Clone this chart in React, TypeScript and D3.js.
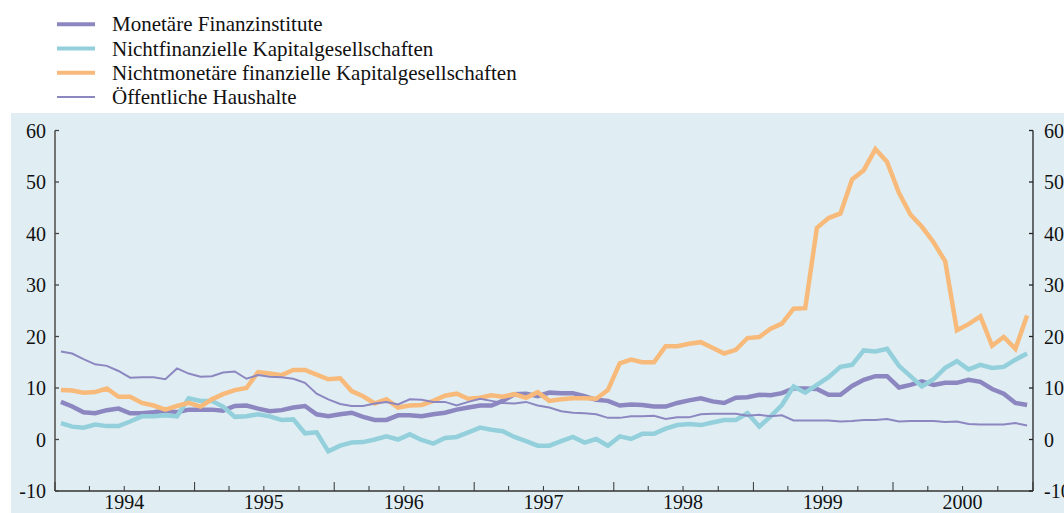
import React from "react";
import * as d3 from "d3";

const years = [1994, 1995, 1996, 1997, 1998, 1999, 2000];
const yTicks = [-10, 0, 10, 20, 30, 40, 50, 60];

const seriesNames = [
  "Monetäre Finanzinstitute",
  "Nichtfinanzielle Kapitalgesellschaften",
  "Nichtmonetäre finanzielle Kapitalgesellschaften",
  "Öffentliche Haushalte",
];

// monthly values Jan 1994 .. Dec 2000
const monetaere = [
  7.3, 6.4, 5.3, 5.1, 5.7, 6.0, 5.1, 5.1, 5.3, 5.6, 5.3, 5.8,
  5.8, 5.8, 5.6, 6.5, 6.6, 6.0, 5.5, 5.7, 6.2, 6.5, 4.9, 4.5,
  4.9, 5.2, 4.4, 3.8, 3.8, 4.7, 4.7, 4.5, 4.9, 5.2, 5.8, 6.2,
  6.6, 6.6, 7.5, 8.8, 8.9, 8.4, 9.1, 9.0, 9.0, 8.4, 7.7, 7.5,
  6.6, 6.8, 6.7, 6.4, 6.4, 7.1, 7.6, 8.0, 7.4, 7.1, 8.1, 8.2,
  8.7, 8.6, 9.0, 9.9, 9.9, 9.8, 8.7, 8.7, 10.4, 11.6, 12.3, 12.3,
  10.1, 10.6, 11.3, 10.6, 11.0, 11.0, 11.6, 11.2, 9.8, 8.9, 7.1, 6.7,
];

const nichtfinanzielle = [
  3.2, 2.5, 2.3, 2.9, 2.6, 2.6, 3.5, 4.5, 4.5, 4.7, 4.5, 8.0,
  7.5, 7.5, 6.4, 4.4, 4.5, 4.9, 4.5, 3.8, 3.9, 1.2, 1.4, -2.3,
  -1.2, -0.6, -0.5, 0.0, 0.6, 0.0, 1.0, -0.1, -0.8, 0.3, 0.5, 1.4,
  2.3, 1.9, 1.6, 0.5, -0.3, -1.2, -1.2, -0.3, 0.5, -0.6, 0.1, -1.2,
  0.6, 0.1, 1.1, 1.1, 2.1, 2.8, 3.0, 2.8, 3.3, 3.8, 3.8, 5.1,
  2.5, 4.5, 6.7, 10.3, 9.1, 10.6, 12.1, 14.1, 14.5, 17.3, 17.1, 17.6,
  14.3, 12.3, 10.3, 11.7, 13.9, 15.2, 13.6, 14.5, 13.9, 14.1, 15.5, 16.7,
];

const nichtmonetaere = [
  9.6, 9.5, 9.1, 9.2, 9.9, 8.3, 8.3, 7.1, 6.6, 5.8, 6.5, 7.1,
  6.4, 7.8, 8.8, 9.6, 10.0, 13.1, 12.8, 12.5, 13.5, 13.5, 12.6, 11.7,
  11.9, 9.4, 8.4, 7.0, 7.8, 6.2, 6.6, 6.7, 7.5, 8.5, 8.9, 7.9,
  8.1, 8.6, 8.3, 8.8, 8.1, 9.2, 7.5, 7.8, 8.0, 8.0, 7.9, 9.6,
  14.8, 15.5, 15.0, 15.0, 18.1, 18.1, 18.6, 18.9, 17.8, 16.7, 17.4, 19.7,
  19.9, 21.5, 22.5, 25.4, 25.5, 41.1, 43.0, 43.9, 50.5, 52.3, 56.4, 53.9,
  47.9, 43.7, 41.3, 38.3, 34.6, 21.2, 22.4, 23.9, 18.2, 19.9, 17.6, 24.1,
];

const oeffentliche = [
  17.1, 16.7, 15.6, 14.6, 14.3, 13.3, 12.0, 12.1, 12.1, 11.7, 13.8, 12.8,
  12.2, 12.3, 13.0, 13.2, 11.8, 12.5, 12.2, 12.1, 11.8, 11.0, 8.9, 7.8,
  6.9, 6.5, 6.5, 7.0, 7.3, 6.8, 7.8, 7.7, 7.3, 7.3, 6.6, 7.3,
  7.9, 7.5, 7.1, 7.0, 7.3, 6.6, 6.2, 5.5, 5.2, 5.1, 4.9, 4.2,
  4.2, 4.5, 4.5, 4.6, 4.0, 4.3, 4.3, 4.9, 5.0, 5.0, 5.0, 4.6,
  4.8, 4.5, 4.7, 3.7, 3.7, 3.7, 3.7, 3.5, 3.6, 3.8, 3.8, 4.0,
  3.5, 3.6, 3.6, 3.6, 3.4, 3.5, 3.0, 2.9, 2.9, 2.9, 3.2, 2.7,
];

const seriesValues = [monetaere, nichtfinanzielle, nichtmonetaere, oeffentliche];
const seriesColors = ["#8c87c0", "#93d0dc", "#f7ba7a", "#8c87c0"];
const seriesWidths = [4.5, 4.5, 4.5, 2];

const W = 1064;
const H = 513;
const start = new Date(1994, 0, 1);
const end = new Date(2001, 0, 1);
const FONT = '"Liberation Serif", "Times New Roman", Times, "DejaVu Serif", serif';

export default function App() {
  const x = d3.scaleTime().domain([start, end]).range([55, 1033]);
  const y = d3.scaleLinear().domain([-10, 60]).range([491, 130.5]);

  const months = d3.timeMonth.range(start, end);
  const mid = months.map((m) => {
    const n = d3.timeMonth.offset(m, 1);
    return new Date((m.getTime() + n.getTime()) / 2);
  });

  const line = d3
    .line<number>()
    .x((_, i) => x(mid[i]))
    .y((v) => y(v));

  const quarters = d3.timeMonth.every(3)!.range(start, end).concat([end]);
  const axisY = y(-10);
  const ts = { fontFamily: FONT };

  return (
    <svg
      width={W}
      height={H}
      style={{ position: "absolute", left: 0, top: 0, display: "block", fontFamily: FONT }}
    >
      <rect x={0} y={0} width={W} height={H} fill="#ffffff" />
      <rect x={11} y={113} width={W - 11} height={H - 113} fill="#e0eef3" />

      {/* legend */}
      {seriesNames.map((name, i) => {
        const ly = 24.3 + i * 24.2;
        return (
          <g key={name}>
            <line
              x1={57}
              x2={95}
              y1={ly}
              y2={ly}
              stroke={seriesColors[i]}
              strokeWidth={i === 3 ? 2 : 4}
            />
            <text x={112} y={ly + 7} fontSize={21} fill="#111" style={ts}>
              {name}
            </text>
          </g>
        );
      })}

      {/* axes */}
      <line x1={55} x2={55} y1={y(60)} y2={axisY} stroke="#666" strokeWidth={1.8} />
      <line x1={1033} x2={1033} y1={y(60)} y2={axisY} stroke="#222" strokeWidth={1.3} />
      <line x1={55} x2={1033} y1={axisY} y2={axisY} stroke="#333" strokeWidth={1.5} />

      {yTicks.map((t) => (
        <g key={t}>
          <line x1={55} x2={59} y1={y(t)} y2={y(t)} stroke="#444" strokeWidth={1.3} />
          <line x1={1029} x2={1033} y1={y(t)} y2={y(t)} stroke="#222" strokeWidth={1.3} />
          <text x={46} y={y(t) + 7} textAnchor="end" fontSize={20} fill="#111" style={ts}>
            {t}
          </text>
          <text x={1044} y={y(t) + 7} textAnchor="start" fontSize={20} fill="#111" style={ts}>
            {t}
          </text>
        </g>
      ))}

      {quarters.map((q) => {
        const isYear = q.getMonth() === 0;
        return (
          <line
            key={q.getTime()}
            x1={x(q)}
            x2={x(q)}
            y1={axisY}
            y2={axisY - (isYear ? 9 : 5)}
            stroke="#333"
            strokeWidth={1}
          />
        );
      })}

      {years.map((yr) => (
        <text
          key={yr}
          x={x(new Date(yr, 6, 1))}
          y={509}
          textAnchor="middle"
          fontSize={20}
          fill="#111"
          style={ts}
        >
          {yr}
        </text>
      ))}

      {/* series */}
      {seriesValues.map((vals, i) => (
        <path
          key={seriesNames[i]}
          d={line(vals) || ""}
          fill="none"
          stroke={seriesColors[i]}
          strokeWidth={seriesWidths[i]}
        />
      ))}
    </svg>
  );
}
